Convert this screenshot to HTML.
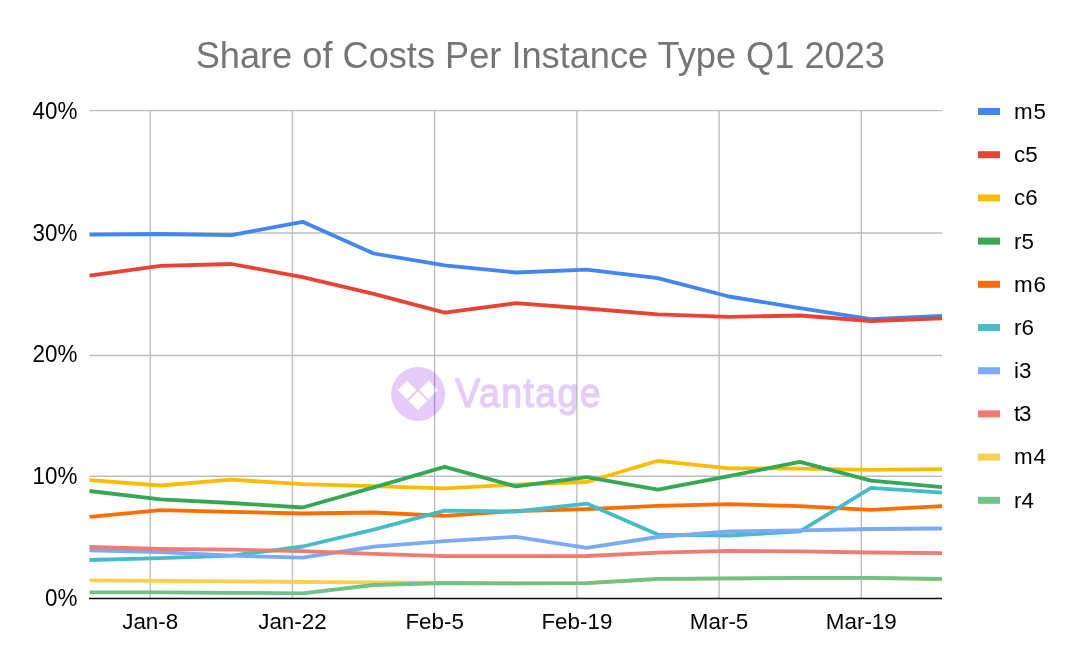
<!DOCTYPE html>
<html><head><meta charset="utf-8"><style>
html,body{margin:0;padding:0;background:#fff;}
svg{display:block;will-change:transform;font-family:"Liberation Sans", sans-serif;}
</style></head><body>
<svg width="1080" height="668" viewBox="0 0 1080 668">
<rect x="0" y="0" width="1080" height="668" fill="#ffffff"/>
<text x="540.3" y="67.5" text-anchor="middle" font-size="36.2" fill="#757575">Share of Costs Per Instance Type Q1 2023</text>
<line x1="89.5" y1="110.6" x2="942" y2="110.6" stroke="#bdbdbd" stroke-width="1.4"/>
<line x1="89.5" y1="233.0" x2="942" y2="233.0" stroke="#bdbdbd" stroke-width="1.4"/>
<line x1="89.5" y1="355.5" x2="942" y2="355.5" stroke="#bdbdbd" stroke-width="1.4"/>
<line x1="89.5" y1="476.2" x2="942" y2="476.2" stroke="#bdbdbd" stroke-width="1.4"/>
<line x1="150.2" y1="110.6" x2="150.2" y2="598.4" stroke="#bdbdbd" stroke-width="1.4"/>
<line x1="292.4" y1="110.6" x2="292.4" y2="598.4" stroke="#bdbdbd" stroke-width="1.4"/>
<line x1="434.6" y1="110.6" x2="434.6" y2="598.4" stroke="#bdbdbd" stroke-width="1.4"/>
<line x1="576.9" y1="110.6" x2="576.9" y2="598.4" stroke="#bdbdbd" stroke-width="1.4"/>
<line x1="719.1" y1="110.6" x2="719.1" y2="598.4" stroke="#bdbdbd" stroke-width="1.4"/>
<line x1="861.3" y1="110.6" x2="861.3" y2="598.4" stroke="#bdbdbd" stroke-width="1.4"/>
<text x="0" y="0" transform="translate(77.3 118.90) scale(1 1.03)" text-anchor="end" font-size="22.4" fill="#000000">40%</text>
<text x="0" y="0" transform="translate(77.3 240.68) scale(1 1.03)" text-anchor="end" font-size="22.4" fill="#000000">30%</text>
<text x="0" y="0" transform="translate(77.3 362.46) scale(1 1.03)" text-anchor="end" font-size="22.4" fill="#000000">20%</text>
<text x="0" y="0" transform="translate(77.3 484.24) scale(1 1.03)" text-anchor="end" font-size="22.4" fill="#000000">10%</text>
<text x="0" y="0" transform="translate(77.3 606.02) scale(1 1.03)" text-anchor="end" font-size="22.4" fill="#000000">0%</text>
<text x="0" y="0" transform="translate(150.20 629.1) scale(1 1.01)" text-anchor="middle" font-size="22.4" fill="#000000">Jan-8</text>
<text x="0" y="0" transform="translate(292.42 629.1) scale(1 1.01)" text-anchor="middle" font-size="22.4" fill="#000000">Jan-22</text>
<text x="0" y="0" transform="translate(434.64 629.1) scale(1 1.01)" text-anchor="middle" font-size="22.4" fill="#000000">Feb-5</text>
<text x="0" y="0" transform="translate(576.86 629.1) scale(1 1.01)" text-anchor="middle" font-size="22.4" fill="#000000">Feb-19</text>
<text x="0" y="0" transform="translate(719.08 629.1) scale(1 1.01)" text-anchor="middle" font-size="22.4" fill="#000000">Mar-5</text>
<text x="0" y="0" transform="translate(861.30 629.1) scale(1 1.01)" text-anchor="middle" font-size="22.4" fill="#000000">Mar-19</text>
<g style="mix-blend-mode:multiply">
<circle cx="418.1" cy="394" r="27" fill="#E6CDF9"/>
<g fill="#ffffff">
<path d="M397.7 390.0 L407.0 380.7 L416.3 390.0 L407.0 399.3 Z"/>
<path d="M419.3 390.0 L428.6 380.7 L437.9 390.0 L428.6 399.3 Z"/>
<path d="M408.6 400.7 L417.9 391.4 L427.2 400.7 L417.9 410.0 Z"/>
</g>
<text x="0" y="0" transform="translate(455.3 407.4) scale(0.9 1)" font-size="41.5" font-weight="normal" letter-spacing="1.65" fill="#E6CDF9" stroke="#E6CDF9" stroke-width="1.3">Vantage</text>
</g>
<polyline points="89.5,234.7 160.5,234.0 231.6,235.1 302.6,221.8 373.7,253.5 444.7,265.4 515.8,272.5 586.8,269.7 657.8,278.2 728.9,296.5 799.9,308.1 871.0,319.2 942.0,315.9" fill="none" stroke="#4285F4" stroke-width="3.8" stroke-linejoin="round" stroke-linecap="butt"/>
<polyline points="89.5,275.6 160.5,265.8 231.6,264.0 302.6,277.2 373.7,293.9 444.7,312.7 515.8,303.2 586.8,308.5 657.8,314.4 728.9,316.9 799.9,315.5 871.0,321.0 942.0,318.3" fill="none" stroke="#EA4335" stroke-width="3.8" stroke-linejoin="round" stroke-linecap="butt"/>
<polyline points="89.5,480.2 160.5,485.5 231.6,479.7 302.6,484.2 373.7,486.1 444.7,488.4 515.8,484.6 586.8,482.0 657.8,460.8 728.9,468.3 799.9,468.6 871.0,469.8 942.0,469.1" fill="none" stroke="#FBBC04" stroke-width="3.8" stroke-linejoin="round" stroke-linecap="butt"/>
<polyline points="89.5,491.0 160.5,499.4 231.6,503.0 302.6,507.5 373.7,487.3 444.7,466.8 515.8,486.3 586.8,477.2 657.8,489.6 728.9,476.2 799.9,461.9 871.0,480.6 942.0,487.1" fill="none" stroke="#34A853" stroke-width="3.8" stroke-linejoin="round" stroke-linecap="butt"/>
<polyline points="89.5,516.9 160.5,510.2 231.6,511.8 302.6,513.5 373.7,512.5 444.7,515.9 515.8,511.0 586.8,509.1 657.8,505.9 728.9,504.1 799.9,506.2 871.0,509.9 942.0,506.2" fill="none" stroke="#FF6D01" stroke-width="3.8" stroke-linejoin="round" stroke-linecap="butt"/>
<polyline points="89.5,560.0 160.5,558.1 231.6,555.7 302.6,546.5 373.7,529.7 444.7,510.7 515.8,511.5 586.8,503.6 657.8,534.6 728.9,535.5 799.9,531.4 871.0,487.8 942.0,492.6" fill="none" stroke="#46BDC6" stroke-width="3.8" stroke-linejoin="round" stroke-linecap="butt"/>
<polyline points="89.5,550.4 160.5,552.1 231.6,555.7 302.6,557.6 373.7,546.7 444.7,541.1 515.8,536.8 586.8,547.9 657.8,537.0 728.9,531.5 799.9,530.4 871.0,529.0 942.0,528.5" fill="none" stroke="#7BAAF7" stroke-width="3.8" stroke-linejoin="round" stroke-linecap="butt"/>
<polyline points="89.5,547.0 160.5,549.0 231.6,549.7 302.6,551.2 373.7,553.9 444.7,556.1 515.8,556.2 586.8,556.0 657.8,552.6 728.9,550.9 799.9,551.3 871.0,552.5 942.0,553.2" fill="none" stroke="#F07B72" stroke-width="3.8" stroke-linejoin="round" stroke-linecap="butt"/>
<polyline points="89.5,580.3 160.5,580.8 231.6,581.3 302.6,582.0 373.7,582.4 444.7,583.0 515.8,583.3 586.8,583.1 657.8,579.2 728.9,578.6 799.9,578.2 871.0,578.2 942.0,579.4" fill="none" stroke="#FCD04F" stroke-width="3.8" stroke-linejoin="round" stroke-linecap="butt"/>
<polyline points="89.5,592.3 160.5,592.3 231.6,592.8 302.6,593.3 373.7,585.0 444.7,583.0 515.8,583.3 586.8,583.1 657.8,578.9 728.9,578.3 799.9,577.9 871.0,577.9 942.0,578.8" fill="none" stroke="#71C287" stroke-width="3.8" stroke-linejoin="round" stroke-linecap="butt"/>
<line x1="89" y1="598.4" x2="942" y2="598.4" stroke="#0a0a0a" stroke-width="1.5"/>
<rect x="978" y="108.0" width="22" height="7" fill="#4285F4"/>
<text x="0" y="0" transform="translate(1014 119.00) scale(1 1.025)" font-size="22.4" letter-spacing="0.8" fill="#000000">m<tspan dx="0">5</tspan></text>
<rect x="978" y="151.2" width="22" height="7" fill="#EA4335"/>
<text x="0" y="0" transform="translate(1014 162.17) scale(1 1.025)" font-size="22.4" letter-spacing="0" fill="#000000">c<tspan dx="0">5</tspan></text>
<rect x="978" y="194.4" width="22" height="7" fill="#FBBC04"/>
<text x="0" y="0" transform="translate(1014 205.34) scale(1 1.025)" font-size="22.4" letter-spacing="0" fill="#000000">c<tspan dx="0">6</tspan></text>
<rect x="978" y="237.6" width="22" height="7" fill="#34A853"/>
<text x="0" y="0" transform="translate(1014 248.51) scale(1 1.025)" font-size="22.4" letter-spacing="0" fill="#000000">r<tspan dx="0">5</tspan></text>
<rect x="978" y="280.8" width="22" height="7" fill="#FF6D01"/>
<text x="0" y="0" transform="translate(1014 291.68) scale(1 1.025)" font-size="22.4" letter-spacing="0.8" fill="#000000">m<tspan dx="0">6</tspan></text>
<rect x="978" y="324.0" width="22" height="7" fill="#46BDC6"/>
<text x="0" y="0" transform="translate(1014 334.85) scale(1 1.025)" font-size="22.4" letter-spacing="0" fill="#000000">r<tspan dx="0">6</tspan></text>
<rect x="978" y="367.2" width="22" height="7" fill="#7BAAF7"/>
<text x="0" y="0" transform="translate(1014 378.02) scale(1 1.025)" font-size="22.4" letter-spacing="0" fill="#000000">i<tspan dx="0">3</tspan></text>
<rect x="978" y="410.4" width="22" height="7" fill="#F07B72"/>
<text x="0" y="0" transform="translate(1014 421.19) scale(1 1.025)" font-size="22.4" letter-spacing="0" fill="#000000">t<tspan dx="-1.2">3</tspan></text>
<rect x="978" y="453.6" width="22" height="7" fill="#FCD04F"/>
<text x="0" y="0" transform="translate(1014 464.36) scale(1 1.025)" font-size="22.4" letter-spacing="0.8" fill="#000000">m<tspan dx="0">4</tspan></text>
<rect x="978" y="496.8" width="22" height="7" fill="#71C287"/>
<text x="0" y="0" transform="translate(1014 507.53) scale(1 1.025)" font-size="22.4" letter-spacing="0" fill="#000000">r<tspan dx="0">4</tspan></text>
</svg>
</body></html>
